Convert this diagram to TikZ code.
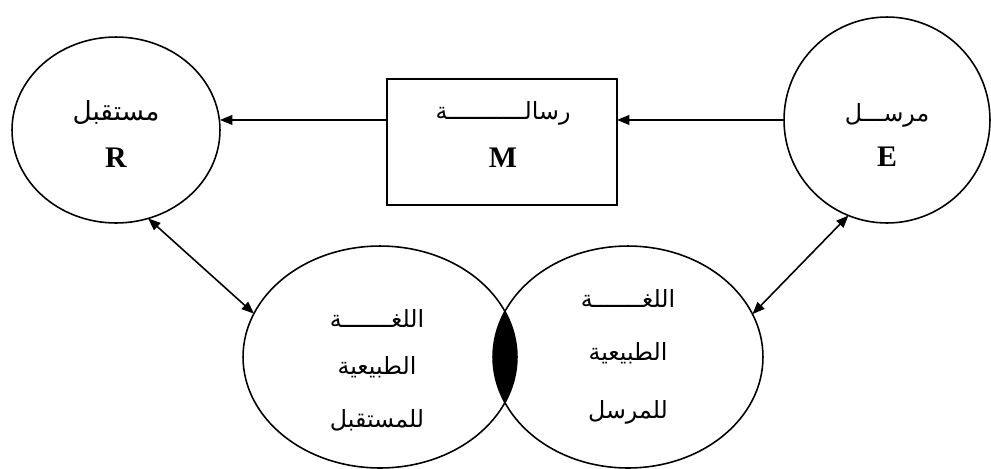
\documentclass[tikz,border=0pt]{standalone}
\usepackage{fontspec}
\setmainfont{Liberation Serif}
\newfontfamily\arabicfont[Script=Arabic]{DejaVu Sans}
\TeXXeTstate=1
\usetikzlibrary{arrows.meta,shapes.geometric,calc}
\begin{document}
\begin{tikzpicture}[x=0.02cm,y=-0.02cm,
  line width=0.9pt,
  tip/.tip={Triangle[length=7pt,width=5.5pt]},
  arr/.style={-tip},
  darr/.style={tip-tip},
  oval/.style={draw,ellipse,inner sep=0pt,outer sep=0pt},
  box/.style={draw,rectangle,inner sep=0pt,outer sep=0pt},
  ar/.style={font=\arabicfont\fontsize{13.5}{15}\selectfont, inner sep=0pt},
  lat/.style={font=\fontsize{17}{19}\selectfont\bfseries, inner sep=0pt}]
\path[fill=white] (0,0) rectangle (991,468);
\useasboundingbox (0,0) rectangle (991,468);

% top row
\node[oval, minimum width=4.16cm, minimum height=3.72cm] (Rc) at (116,130) {};
\node[oval, minimum width=4.12cm, minimum height=4.12cm] (Ec) at (887,120) {};
\node[box, minimum width=4.6cm, minimum height=2.52cm] (Mb) at (502,142) {};

\node[ar, font=\arabicfont\fontsize{15}{17}\selectfont] (Rt) at (116,112) {\beginR مستقبل\endR};
\node[lat] (Rl) at (116,158) {R};
\node[ar] (Et) at (887,115) {\beginR مرســـل\endR};
\node[lat] (El) at (887,157) {E};
\node[ar] (Mt) at (503,113) {\beginR رسالـــــــــــة\endR};
\node[lat] (Ml) at (503,158) {M};

% bottom ovals
\begin{scope}
  \clip (380,357) ellipse [x radius=2.74cm, y radius=2.22cm];
  \fill[black] (628,357) ellipse [x radius=2.7cm, y radius=2.22cm];
\end{scope}
\node[oval, minimum width=5.48cm, minimum height=4.44cm] (Lo) at (380,357) {};
\node[oval, minimum width=5.4cm, minimum height=4.44cm] (Ro) at (628,357) {};

\node[ar] (L1) at (377,318) {\beginR اللغـــــــة\endR};
\node[ar] (L2) at (377,367) {\beginR الطبيعية\endR};
\node[ar] (L3) at (377,420) {\beginR للمستقبل\endR};
\node[ar] (R1) at (628,298) {\beginR اللغـــــــة\endR};
\node[ar] (R2) at (628,353) {\beginR الطبيعية\endR};
\node[ar] (R3) at (628,412) {\beginR للمرسل\endR};

% connectors
\coordinate (mw) at ($(Mb.north west)!0.325!(Mb.south west)$);
\coordinate (me) at ($(Mb.north east)!0.325!(Mb.south east)$);
\draw[arr] (mw) -- (Rc.east |- mw);
\draw[arr] (Ec.west) -- (me);
\draw[darr] (Rc.-70) -- (Lo.161);
\draw[darr] (Ec.-112) -- (Ro.19);
\end{tikzpicture}
\end{document}
